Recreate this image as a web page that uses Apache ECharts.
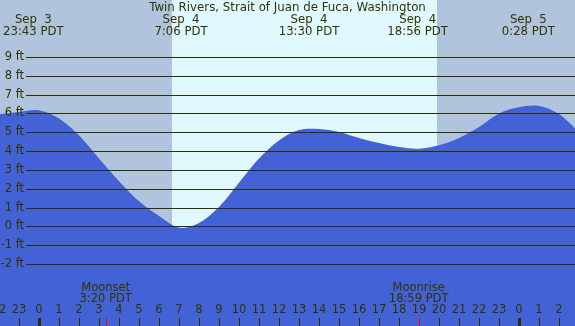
<!DOCTYPE html>
<html>
<head>
<meta charset="utf-8">
<script src="https://cdn.jsdelivr.net/npm/echarts@6/dist/echarts.min.js"></script>
<style>
html,body{margin:0;padding:0;background:#b0c4de;}
#c{width:575px;height:326px;}
</style>
</head>
<body>
<div id="c"></div>
<script>
// ---- data (hours measured from Sep 4 00:00 PDT) ----
const titleText = 'Twin Rivers, Strait of Juan de Fuca, Washington';
const tideHours = [-2, -1, 0, 1, 2, 3, 4, 5, 6, 7, 8, 9, 10, 11, 12, 13, 14, 15, 16, 17, 18, 19, 20, 21, 22, 23, 24, 25, 26, 27];
const tideFeet  = [5.95, 6.08, 6.17, 5.73, 4.84, 3.6, 2.39, 1.33, 0.55, -0.07, 0.18, 1.03, 2.32, 3.6, 4.57, 5.12, 5.18, 5.02, 4.7, 4.43, 4.22, 4.13, 4.31, 4.7, 5.28, 6.0, 6.33, 6.4, 5.97, 5.0];
const extremeHours  = [-0.283, 7.1, 13.5, 18.933, 24.467];
const extremeLabels = ['Sep  3\n23:43 PDT', 'Sep  4\n7:06 PDT', 'Sep  4\n13:30 PDT', 'Sep  4\n18:56 PDT', 'Sep  5\n0:28 PDT'];
const moonHours  = [3.333, 18.983];
const moonLabels = ['Moonset\n3:20 PDT', 'Moonrise\n18:59 PDT'];
const midnightHours = [0, 24];
const sunrise = 6.65, sunset = 19.9;
const gridFeet = [-2, -1, 0, 1, 2, 3, 4, 5, 6, 7, 8, 9];

// ---- styling ----
const FONT = '"DejaVu Sans", sans-serif';
const TXT = '#333300';
const LINE = '#2e2e00';
const FILL = '#4262d6';
const yMin = -5.303, yMax = 12.037;
const xMin = -2, xMax = 27;
const gridLineStart = -0.65;   // hour where the ft gridlines begin (after their labels)

const chart = echarts.init(document.getElementById('c'), null, {renderer: 'canvas'});

// smooth tide area drawn through the axis scales (Catmull-Rom through the read points)
function renderTide(params, api) {
  if (params.dataIndex !== 0) return null;
  const pts = tideHours.map((h, i) => api.coord([h, tideFeet[i]]));
  const base = api.coord([0, yMin])[1];
  const n = pts.length;
  let d = 'M' + pts[0][0] + ' ' + base + ' L' + pts[0][0] + ' ' + pts[0][1];
  for (let i = 0; i < n - 1; i++) {
    const p0 = pts[Math.max(0, i - 1)], p1 = pts[i], p2 = pts[i + 1], p3 = pts[Math.min(n - 1, i + 2)];
    const c1x = p1[0] + (p2[0] - p0[0]) / 6, c1y = p1[1] + (p2[1] - p0[1]) / 6;
    const c2x = p2[0] - (p3[0] - p1[0]) / 6, c2y = p2[1] - (p3[1] - p1[1]) / 6;
    d += ' C' + c1x + ' ' + c1y + ' ' + c2x + ' ' + c2y + ' ' + p2[0] + ' ' + p2[1];
  }
  d += ' L' + pts[n - 1][0] + ' ' + base + ' Z';
  return {type: 'path', shape: {pathData: d}, style: {fill: FILL, stroke: null}};
}

// horizontal ft gridlines with their labels, snapped to whole pixels
function renderGrid(params, api) {
  const v = api.value(0);
  const y = Math.round(api.coord([xMin, v])[1]) + 0.5;
  const x0 = api.coord([gridLineStart, v])[0];
  const x1 = api.coord([xMax, v])[0];
  return {
    type: 'group',
    children: [
      {type: 'line', shape: {x1: x0, y1: y, x2: x1, y2: y}, style: {stroke: LINE, lineWidth: 1}},
      {type: 'text', x: x0 - 2, y: y, style: {text: v + ' ft', font: '11.5px ' + FONT, fill: TXT, align: 'right', verticalAlign: 'middle'}}
    ]
  };
}

const option = {
  animation: false,
  backgroundColor: '#b0c4de',
  grid: {left: -1, right: -4, top: 0, bottom: 0, containLabel: false, outerBoundsMode: 'none'},
  xAxis: {
    type: 'value', min: xMin, max: xMax, interval: 1, z: 10,
    axisLine: {show: false, onZero: false},
    splitLine: {show: false},
    axisTick: {show: true, inside: true, length: 8, lineStyle: {color: LINE, width: 1}},
    axisLabel: {
      inside: true, margin: 10, color: TXT, fontFamily: FONT, fontSize: 11.5,
      showMinLabel: true, showMaxLabel: true, hideOverlap: false,
      formatter: v => String(((Math.round(v) % 24) + 24) % 24)
    }
  },
  yAxis: {type: 'value', min: yMin, max: yMax, show: false},
  series: [
    {
      type: 'line', data: [], z: 1, silent: true,
      markArea: {
        silent: true,
        itemStyle: {color: '#e0f8ff'},
        data: [[{xAxis: sunrise, yAxis: yMin}, {xAxis: sunset, yAxis: yMax}]]
      }
    },
    {
      type: 'custom', z: 2, silent: true, clip: true,
      data: tideHours.map((h, i) => [h, tideFeet[i]]),
      renderItem: renderTide
    },
    {
      type: 'custom', z: 3, silent: true,
      data: gridFeet.map(v => [v]),
      renderItem: renderGrid
    },
    {
      type: 'custom', z: 11, silent: true,
      data: midnightHours.map(h => [h]),
      renderItem: (params, api) => {
        const p = api.coord([api.value(0), yMin]);
        return {type: 'rect', shape: {x: Math.round(p[0]) - 1, y: p[1] - 8, width: 3, height: 8}, style: {fill: LINE}};
      }
    },
    {
      type: 'custom', z: 11, silent: true,
      data: moonHours.map(h => [h]),
      renderItem: (params, api) => {
        const p = api.coord([api.value(0), yMin]);
        return {type: 'rect', shape: {x: Math.round(p[0]), y: p[1] - 8, width: 1, height: 8}, style: {fill: '#ff0000'}};
      }
    }
  ]
};
chart.setOption(option);

// text labels placed through the axis scale
const gfx = [];
gfx.push({
  type: 'text', x: 287.5, y: 7.5, z: 20,
  style: {text: titleText, font: '11.8px ' + FONT, fill: TXT, align: 'center', verticalAlign: 'middle'}
});
extremeHours.forEach((h, i) => {
  const x = chart.convertToPixel({xAxisIndex: 0}, h);
  gfx.push({
    type: 'text', x: x, y: 25.5, z: 20,
    style: {text: extremeLabels[i], font: '11.7px ' + FONT, fill: TXT, align: 'center', verticalAlign: 'middle', lineHeight: 12}
  });
});
moonHours.forEach((h, i) => {
  const x = chart.convertToPixel({xAxisIndex: 0}, h);
  gfx.push({
    type: 'text', x: x, y: 293.3, z: 20,
    style: {text: moonLabels[i], font: '11.5px ' + FONT, fill: TXT, align: 'center', verticalAlign: 'middle', lineHeight: 11.5}
  });
});
chart.setOption({graphic: gfx});
</script>
</body>
</html>
